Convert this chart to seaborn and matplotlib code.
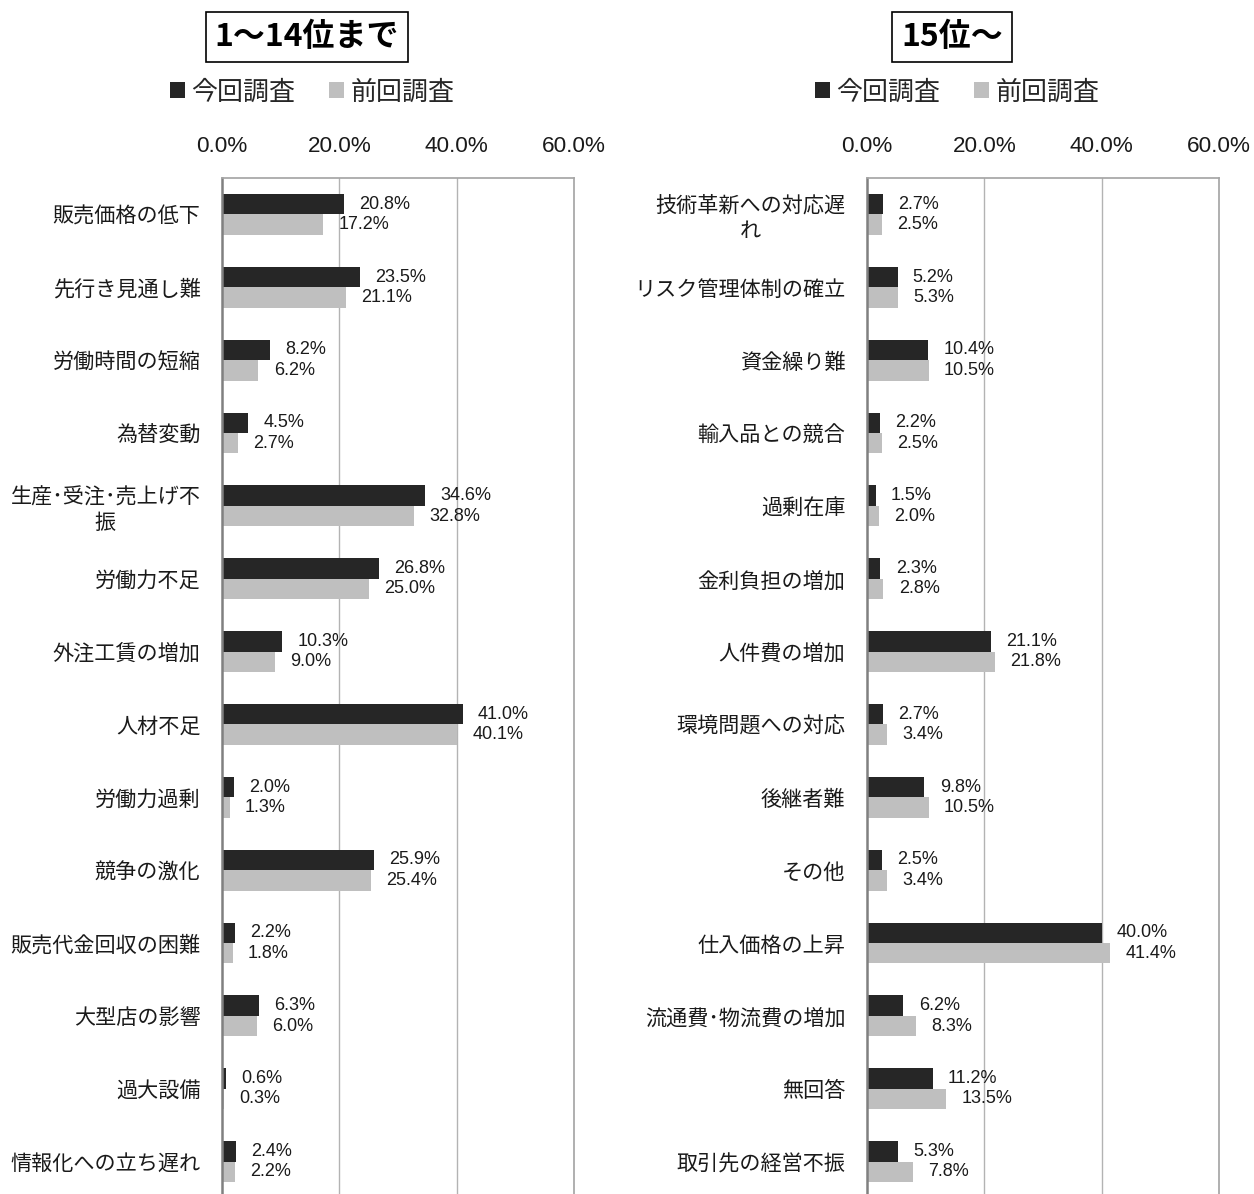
import matplotlib
matplotlib.use("Agg")
import matplotlib.pyplot as plt
from matplotlib.patches import Patch
import seaborn as sns
import pandas as pd

sns.set_theme(style="white")
plt.rcParams["font.family"] = ["Noto Sans CJK JP", "DejaVu Sans"]

# 1～14位
left_items = ["販売価格の低下", "先行き見通し難", "労働時間の短縮", "為替変動",
              "生産･受注･売上げ不\n振", "労働力不足", "外注工賃の増加", "人材不足",
              "労働力過剰", "競争の激化", "販売代金回収の困難", "大型店の影響",
              "過大設備", "情報化への立ち遅れ"]
left_now = [20.8, 23.5, 8.2, 4.5, 34.6, 26.8, 10.3, 41.0, 2.0, 25.9, 2.2, 6.3, 0.6, 2.4]
left_prev = [17.2, 21.1, 6.2, 2.7, 32.8, 25.0, 9.0, 40.1, 1.3, 25.4, 1.8, 6.0, 0.3, 2.2]

# 15位～
right_items = ["技術革新への対応遅\nれ", "リスク管理体制の確立", "資金繰り難", "輸入品との競合",
               "過剰在庫", "金利負担の増加", "人件費の増加", "環境問題への対応",
               "後継者難", "その他", "仕入価格の上昇", "流通費･物流費の増加",
               "無回答", "取引先の経営不振"]
right_now = [2.7, 5.2, 10.4, 2.2, 1.5, 2.3, 21.1, 2.7, 9.8, 2.5, 40.0, 6.2, 11.2, 5.3]
right_prev = [2.5, 5.3, 10.5, 2.5, 2.0, 2.8, 21.8, 3.4, 10.5, 3.4, 41.4, 8.3, 13.5, 7.8]

series_names = ["今回調査", "前回調査"]
series_colors = ["#262626", "#bfbfbf"]
x_ticks = [0, 20, 40, 60]
x_tick_labels = ["0.0%", "20.0%", "40.0%", "60.0%"]
panel_titles = ["1～14位まで", "15位～"]

W, H = 1254, 1194
fig = plt.figure(figsize=(W / 100, H / 100), dpi=100)
num_font = ["Liberation Sans", "DejaVu Sans"]


def long_frame(items, now, prev):
    return pd.DataFrame({
        "item": items * 2,
        "value": now + prev,
        "series": [series_names[0]] * len(items) + [series_names[1]] * len(items),
    })


def draw_panel(ax, items, now, prev):
    df = long_frame(items, now, prev)
    sns.barplot(data=df, x="value", y="item", hue="series", order=items,
                hue_order=series_names, palette=series_colors, saturation=1,
                width=0.56, errorbar=None, linewidth=0, orient="h", ax=ax,
                legend=False)
    ax.set_xlim(0, 60)
    ax.set_ylim(len(items) - 0.5, -0.5)
    ax.xaxis.tick_top()
    ax.set_xticks(x_ticks)
    ax.set_xticklabels(x_tick_labels, fontsize=16.2, family=num_font, color="#1a1a1a")
    ax.tick_params(axis="x", length=0, pad=15)
    ax.tick_params(axis="y", length=0, pad=15.5)
    for lab in ax.get_yticklabels():
        lab.set_fontsize(15.2)
        lab.set_multialignment("center")
        lab.set_color("#1a1a1a")
    ax.set_xlabel("")
    ax.set_ylabel("")
    for x in (20, 40):
        ax.axvline(x, color="#b3b3b3", lw=1.0, zorder=0)
    ax.spines["left"].set_color("#808080")
    ax.spines["left"].set_linewidth(1.8)
    ax.spines["right"].set_color("#a6a6a6")
    ax.spines["top"].set_color("#a6a6a6")
    ax.spines["bottom"].set_visible(False)
    for cont in ax.containers:
        ax.bar_label(cont, fmt="%.1f%%", padding=11, fontsize=13,
                     family=num_font, color="#1a1a1a")


top = 1 - 178 / H
bottom = -4 / H
axw = 352 / W
ax1 = fig.add_axes([222 / W, bottom, axw, top - bottom])
ax2 = fig.add_axes([867 / W, bottom, axw, top - bottom])
draw_panel(ax1, left_items, left_now, left_prev)
draw_panel(ax2, right_items, right_now, right_prev)

# panel headings and legends
for cx, title, lx in [(307, panel_titles[0], 170), (952, panel_titles[1], 815)]:
    fig.text(cx / W, 1 - 37 / H, title, ha="center", va="center", fontsize=23,
             fontweight="bold", color="black",
             bbox=dict(boxstyle="square,pad=0.28", fc="white", ec="black", lw=1.2))
    handles = [Patch(facecolor=c, edgecolor="none") for c in series_colors]
    fig.legend(handles, series_names, loc="center left",
               bbox_to_anchor=(lx / W, 1 - 92 / H), bbox_transform=fig.transFigure,
               ncol=2, frameon=False, fontsize=18.7, handlelength=0.58, handleheight=0.58,
               handletextpad=0.25, columnspacing=1.3, borderaxespad=0, borderpad=0)

fig.savefig("out.png", dpi=100, facecolor="white")
